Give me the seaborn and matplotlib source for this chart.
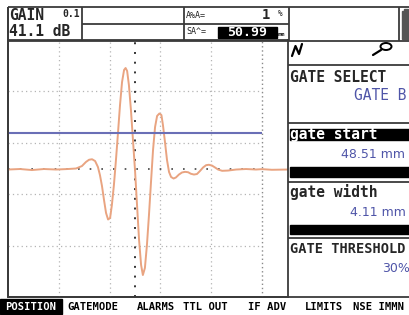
import numpy as np
import pandas as pd
import seaborn as sns
import matplotlib.pyplot as plt
from matplotlib.patches import Rectangle, Ellipse

# A-scan trace
# x in screen divisions (10 div graticule), y in % of full screen height
scan_x = [0.00, 0.47, 0.94, 1.42, 1.89, 2.36, 2.68, 2.91, 3.07, 3.19,
          3.31, 3.43, 3.54, 3.62, 3.70, 3.78, 3.86, 3.94, 4.02, 4.09,
          4.17, 4.25, 4.33, 4.41, 4.49, 4.57, 4.63, 4.69, 4.76, 4.84,
          4.92, 5.00, 5.08, 5.16, 5.24, 5.31, 5.39, 5.47, 5.55, 5.63,
          5.71, 5.79, 5.87, 5.96, 6.04, 6.10, 6.18, 6.26, 6.34, 6.42,
          6.52, 6.61, 6.73, 6.85, 6.97, 7.09, 7.20, 7.32, 7.44, 7.56,
          7.68, 7.80, 7.91, 8.03, 8.15, 8.27, 8.43, 8.66, 8.98, 9.37,
          9.76, 10.00, 10.39, 11.02]
scan_y = [-0.8, -0.4, -1.2, -0.4, -0.8, -0.4, 0.0, 1.9, 5.1, 6.8,
          7.2, 5.8, 1.2, -5.1, -13.6, -24.5, -34.6, -39.7, -38.5, -28.4,
          -12.8, 6.6, 27.6, 49.4, 67.3, 76.7, 78.2, 75.9, 65.0, 45.5,
          22.2, -1.2, -28.4, -55.6, -75.1, -82.9, -77.4, -59.5, -36.2, -10.5,
          14.4, 32.3, 40.9, 42.8, 41.6, 33.9, 20.6, 6.6, -2.7, -6.6,
          -7.8, -7.0, -4.7, -3.1, -2.6, -2.9, -4.1, -4.7, -4.3, -1.9,
          0.8, 2.6, 2.9, 2.3, 0.8, -0.8, -1.8, -1.6, -0.8, -0.4,
          -0.8, -0.5, -1.0, -0.8]

gate_level = 28
gate_span = [0, 10]

gain_db = "41.1"
gain_step = "0.1"
amp_pct = "1"
sound_path = "50.99"
gate_select = "GATE B"
gate_start = "48.51 mm"
gate_width = "4.11 mm"
gate_threshold = "30%"
softkeys = ["POSITION", "GATEMODE", "ALARMS", "TTL OUT", "IF ADV", "LIMITS", "NSE IMMN"]

sns.set_style("white")
plt.rcParams['font.family'] = ['DejaVu Sans Mono', 'DejaVu Sans']

W, H = 409, 315
fig = plt.figure(figsize=(W / 100, H / 100), dpi=100)
fig.patch.set_facecolor('white')

# overlay in pixel coordinates for the instrument frame
ov = fig.add_axes([0, 0, 1, 1])
ov.set_xlim(0, W)
ov.set_ylim(H, 0)
ov.axis('off')

# A-scan area
L, R, T, B = 8, 288, 40, 297
ax = fig.add_axes([L / W, 1 - B / H, (R - L) / W, (B - T) / H])
ax.set_facecolor('none')
ax.set_xlim(0, (R - L) / 25.4)
ax.set_ylim(-100, 100)
xfrac = 10 / ((R - L) / 25.4)

# graticule
for gx in [2, 4, 6, 8]:
    ax.axvline(gx, color='#b4b4b4', lw=0.9, ls=(0, (1, 2.5)))
ax.axvline(10, color='#8a8a8a', lw=1.0, ls=(0, (1, 2)))
for gy in [60, 20, -20, -60]:
    ax.axhline(gy, xmax=xfrac, color='#b4b4b4', lw=0.9, ls=(0, (1, 2.5)))
ax.axvline(5, color='#333333', lw=1.4, ls=(0, (1, 4)))
ax.axhline(0, xmax=xfrac, color='#444444', lw=1.2, ls=(0, (1, 6)))

ax.set_xticks(np.arange(0, 11, 1))
ax.set_xticks(np.arange(0, 11, 0.5), minor=True)
ax.set_yticks([])
ax.tick_params(axis='x', which='major', direction='in', length=4, width=0.8, color='#666666',
               labelbottom=False)
ax.tick_params(axis='x', which='minor', direction='in', length=2, width=0.6, color='#888888')
for s in ax.spines.values():
    s.set_color('#3a3a3a')
    s.set_linewidth(1.3)

# trace and gate
df = pd.DataFrame({'x': scan_x, 'y': scan_y})
sns.lineplot(data=df, x='x', y='y', ax=ax, color='#E9A481', lw=1.4, sort=False, legend=False)
ax.hlines(gate_level, gate_span[0], gate_span[1], color='#6A6FB6', lw=1.5)
ax.set_xlabel('')
ax.set_ylabel('')

# frame lines
fc = '#3a3a3a'
def hline(y, x1, x2, lw=1.3):
    ov.plot([x1, x2], [y, y], color=fc, lw=lw, solid_capstyle='butt')
def vline(x, y1, y2, lw=1.3):
    ov.plot([x, x], [y1, y2], color=fc, lw=lw, solid_capstyle='butt')

hline(7, 8, W)
hline(41, 8, W)
hline(24, 82, 289)
for vx in [8, 82, 184, 289, 399]:
    vline(vx, 7, 41)
vline(8, 7, 297)
hline(65, 288, W)
hline(123, 288, W)
hline(182, 288, W)
hline(238, 288, W)
hline(297, 8, W)

# header texts
ov.text(9, 15, "GAIN", fontsize=10.5, fontweight='bold', va='center', ha='left')
ov.text(80, 14, gain_step, fontsize=7, fontweight='bold', va='center', ha='right')
ov.text(9, 32, gain_db + " dB", fontsize=10.5, fontweight='bold', va='center', ha='left')
ov.text(186, 15, "A%A=", fontsize=6, va='center', ha='left')
ov.text(270, 15, amp_pct, fontsize=10, fontweight='bold', va='center', ha='right')
ov.text(278, 14, "%", fontsize=5.5, va='center', ha='left')
ov.text(186, 32, "SA^=", fontsize=6, va='center', ha='left')
ov.add_patch(Rectangle((218, 27), 59, 11, color='black'))
ov.text(247, 32.5, sound_path, fontsize=9.5, fontweight='bold', color='white', va='center', ha='center')
ov.text(278, 34, "mm", fontsize=4.5, fontweight='bold', va='center', ha='left')

# battery icon
ov.add_patch(Rectangle((402, 11), 8, 28, color='#555555'))
ov.add_patch(Rectangle((404, 8.5), 4, 3, color='#555555'))

# icon row
ov.plot([292, 295.5, 299, 302], [56, 46, 54, 44], color='black', lw=1.6)
ov.add_patch(Ellipse((386, 46.5), 11, 7, fill=False, ec='black', lw=1.4))
ov.plot([381, 373], [50, 55], color='black', lw=1.6)

# right panel
blue = '#4F55A8'
ov.text(290, 77, "GATE SELECT", fontsize=10.5, fontweight='bold', va='center', ha='left')
ov.text(354, 96, gate_select, fontsize=10.5, color=blue, va='center', ha='left')
ov.add_patch(Rectangle((290, 129), 120, 11, color='black'))
ov.text(290, 134, "gate start", fontsize=10.5, fontweight='bold', color='white', va='center', ha='left')
ov.text(341, 155, gate_start, fontsize=9, family='DejaVu Sans', color=blue, va='center', ha='left')
ov.add_patch(Rectangle((290, 167), 120, 10, color='black'))
ov.text(290, 192, "gate width", fontsize=10.5, fontweight='bold', va='center', ha='left')
ov.text(350, 212, gate_width, fontsize=9, family='DejaVu Sans', color=blue, va='center', ha='left')
ov.add_patch(Rectangle((290, 225), 120, 9, color='black'))
ov.text(290, 249, "GATE THRESHOLD", fontsize=9.8, fontweight='bold', va='center', ha='left')
ov.text(382, 268, gate_threshold, fontsize=9, family='DejaVu Sans', color=blue, va='center', ha='left')

# softkey bar
key_x = [31, 67, 137, 183, 248, 305, 353]
ov.add_patch(Rectangle((0, 299), 62, 15, color='black'))
for i, (k, kx) in enumerate(zip(softkeys, key_x)):
    if i == 0:
        ov.text(kx, 307, k, fontsize=7.6, fontweight='bold', color='white', va='center', ha='center')
    else:
        ov.text(kx, 307, k, fontsize=7.6, fontweight='bold', color='black', va='center', ha='left')

fig.savefig('out.png', dpi=100, facecolor='white')
